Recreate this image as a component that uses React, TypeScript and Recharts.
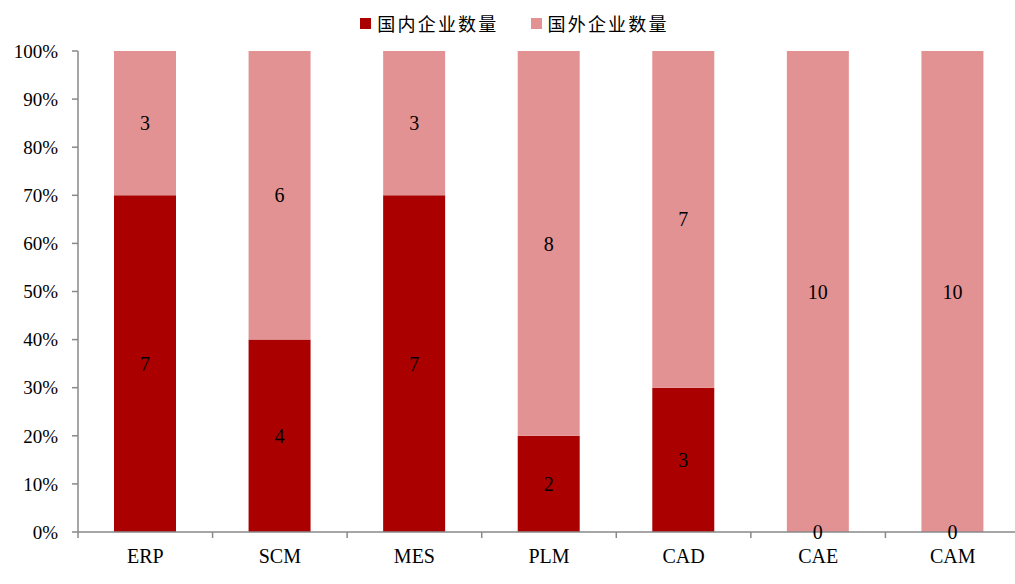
import { BarChart, Bar, XAxis, YAxis, Legend, LabelList } from 'recharts';

const categories = ['ERP', 'SCM', 'MES', 'PLM', 'CAD', 'CAE', 'CAM'];
const domesticCount = [7, 4, 7, 2, 3, 0, 0];
const foreignCount = [3, 6, 3, 8, 7, 10, 10];
const percentTicks = [0, 0.1, 0.2, 0.3, 0.4, 0.5, 0.6, 0.7, 0.8, 0.9, 1];

const DOMESTIC = '#AA0000';
const FOREIGN = '#E39294';
const AXIS = '#898989';
const SERIF = '"Times New Roman", "Liberation Serif", serif';
const CJK = '"Noto Sans CJK SC", sans-serif';

const CHART_W = 1020;
const CHART_H = 584;
const Y_AXIS_W = 78;
const BAND = (CHART_W - Y_AXIS_W) / categories.length;

const data = categories.map((name, i) => ({
  name,
  domestic: domesticCount[i],
  foreign: foreignCount[i],
}));

// category label centred under the bar, tick mark on the left boundary of the band
function CategoryTick(props: any) {
  const { x, y, payload } = props;
  const edge = x - BAND / 2;
  return (
    <g>
      <line x1={edge} y1={y - 6} x2={edge} y2={y} stroke={AXIS} strokeWidth={1.5} />
      <text x={x} y={y + 25} textAnchor="middle" fontFamily={SERIF} fontSize={20} fill="#000">
        {payload.value}
      </text>
    </g>
  );
}

function LabelText({ x, y, value }: { x: number; y: number; value: any }) {
  return (
    <text x={x} y={y} dy="0.35em" textAnchor="middle" fontFamily={SERIF} fontSize={20} fill="#000">
      {value}
    </text>
  );
}

// zero-height domestic segments get no label of their own; print their 0 at the
// bottom of the foreign segment, which is where the empty segment sits
function ZeroDomesticLabel(props: any) {
  const { x, y, width, height, index } = props;
  if (domesticCount[index] !== 0) return null;
  return <LabelText x={Number(x) + Number(width) / 2} y={Number(y) + Number(height)} value={domesticCount[index]} />;
}

function LegendRow(props: any) {
  const items = props.payload || [];
  return (
    <div style={{ display: 'flex', justifyContent: 'center', gap: 32 }}>
      {items.map((item: any) => (
        <div key={item.value} style={{ display: 'flex', alignItems: 'center' }}>
          <span style={{ width: 11, height: 11, background: item.color, marginRight: 6 }} />
          <span style={{ fontFamily: CJK, fontSize: 18, letterSpacing: 2.2, color: '#000' }}>
            {item.value}
          </span>
        </div>
      ))}
    </div>
  );
}

export default function App() {
  return (
    <div style={{ position: 'absolute', left: 0, top: 0, width: 1015, height: CHART_H, overflow: 'hidden', background: '#fff' }}>
      <BarChart
        width={CHART_W}
        height={CHART_H}
        data={data}
        stackOffset="expand"
        barSize={62}
        margin={{ top: 51, right: 0, bottom: 0, left: 0 }}
      >
        <XAxis
          dataKey="name"
          height={52}
          axisLine={{ stroke: AXIS, strokeWidth: 1.5 }}
          tickLine={false}
          tickSize={6}
          tickMargin={0}
          interval={0}
          tick={<CategoryTick />}
        />
        <YAxis
          width={Y_AXIS_W}
          domain={[0, 1]}
          ticks={percentTicks}
          tickFormatter={(v: number) => `${Math.round(v * 100)}%`}
          axisLine={{ stroke: AXIS, strokeWidth: 1.5 }}
          tickLine={{ stroke: AXIS, strokeWidth: 1.5 }}
          tickSize={6}
          tickMargin={14}
          tick={{ fontFamily: SERIF, fontSize: 19, fill: '#000' }}
        />
        <Legend
          verticalAlign="middle"
          content={<LegendRow />}
          wrapperStyle={{ top: 10, left: 0, width: 1029 }}
        />
        <Bar dataKey="domestic" name="国内企业数量" stackId="a" fill={DOMESTIC} isAnimationActive={false}>
          <LabelList dataKey="domestic" position="center" fill="#000" fontFamily={SERIF} fontSize={20} />
        </Bar>
        <Bar dataKey="foreign" name="国外企业数量" stackId="a" fill={FOREIGN} isAnimationActive={false}>
          <LabelList dataKey="foreign" position="center" fill="#000" fontFamily={SERIF} fontSize={20} />
          <LabelList dataKey="foreign" content={<ZeroDomesticLabel />} />
        </Bar>
      </BarChart>
    </div>
  );
}
